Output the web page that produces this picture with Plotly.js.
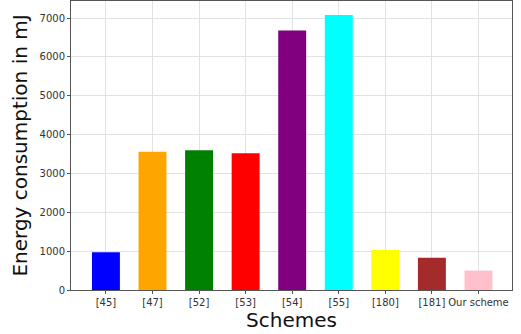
<!DOCTYPE html>
<html>
<head>
<meta charset="utf-8">
<script src="https://cdn.plot.ly/plotly-3.0.1.min.js"></script>
<style>
  html, body { margin: 0; padding: 0; background: #fff; }
  #chart { width: 521px; height: 334px; }
</style>
</head>
<body>
<div id="chart"></div>
<script>
// Energy consumption per scheme (mJ)
const schemes = ["[45]", "[47]", "[52]", "[53]", "[54]", "[55]", "[180]", "[181]", "Our scheme"];
const energy = [970, 3560, 3600, 3520, 6680, 7080, 1030, 830, 500];
const barColors = ["blue", "orange", "green", "red", "purple", "cyan", "yellow", "brown", "pink"];
const yTicks = [0, 1000, 2000, 3000, 4000, 5000, 6000, 7000];

const trace = {
  type: "bar",
  x: schemes,
  y: energy,
  marker: { color: barColors, line: { width: 0 } },
  width: 0.6,
  hoverinfo: "x+y"
};

const layout = {
  width: 521,
  height: 334,
  margin: { l: 71, r: 9, t: 1, b: 44 },
  paper_bgcolor: "#fff",
  plot_bgcolor: "#fff",
  showlegend: false,
  font: { family: "DejaVu Sans, sans-serif", color: "#333" },
  xaxis: {
    type: "category",
    range: [-0.75, 8.72],
    showgrid: true,
    gridcolor: "#e2e2e2",
    gridwidth: 1,
    showline: true,
    linecolor: "#555",
    linewidth: 1,
    mirror: true,
    ticks: "outside",
    ticklen: 3,
    tickcolor: "#555",
    tickfont: { size: 10, color: "#333" },
    title: { text: "Schemes", font: { size: 20, color: "#111" }, standoff: 4 },
    zeroline: false
  },
  yaxis: {
    range: [0, 7440],
    tickvals: yTicks,
    ticktext: yTicks.map(String),
    showgrid: true,
    gridcolor: "#e2e2e2",
    gridwidth: 1,
    showline: true,
    linecolor: "#555",
    linewidth: 1,
    mirror: true,
    ticks: "outside",
    ticklen: 3,
    tickcolor: "#555",
    tickfont: { size: 10, color: "#333" },
    title: { text: "Energy consumption in mJ", font: { size: 20, color: "#111" }, standoff: 6 },
    zeroline: false
  }
};

Plotly.newPlot("chart", [trace], layout, { displayModeBar: false, staticPlot: true });
</script>
</body>
</html>
